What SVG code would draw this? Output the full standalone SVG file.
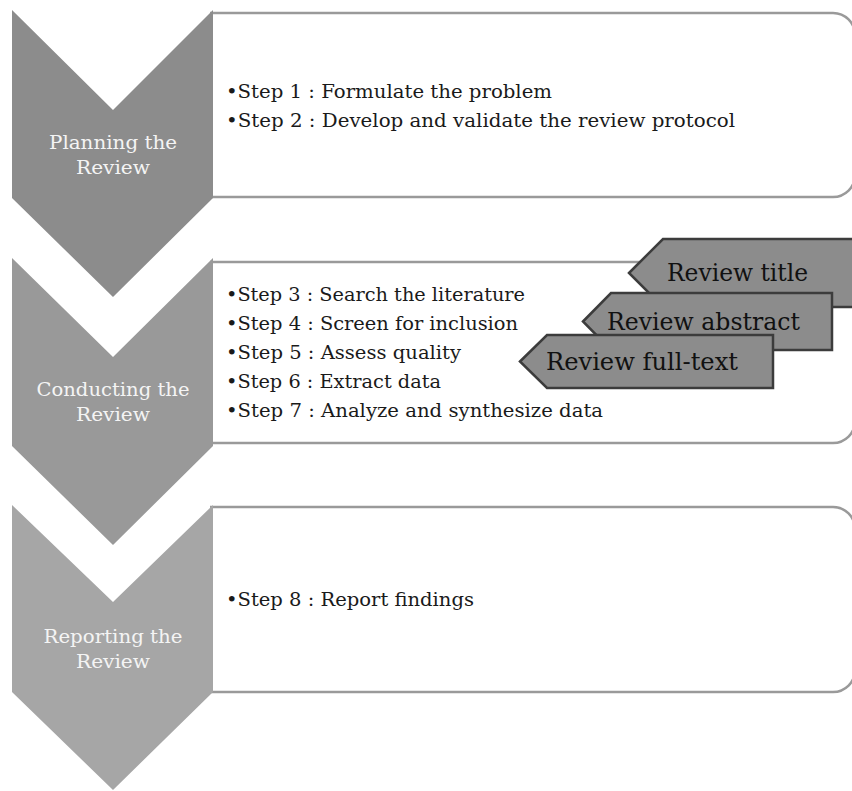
<svg xmlns="http://www.w3.org/2000/svg" width="852" height="791" viewBox="0 0 852 791">
<style>
.box{fill:#ffffff;stroke:#9a9a9a;stroke-width:2.5}
.lbl{font-family:"DejaVu Serif","Liberation Serif",serif;font-size:18px;fill:#f4f4f4;text-anchor:middle}
.step{font-family:"DejaVu Serif","Liberation Serif",serif;font-size:18px;fill:#1a1a1a}
.tag{fill:#8c8c8c;stroke:#3c3c3c;stroke-width:2.5}
.tagt{font-family:"DejaVu Serif","Liberation Serif",serif;font-size:24px;fill:#111;text-anchor:middle}
</style>
<rect width="852" height="791" fill="#ffffff"/>
<g id="stage1">
<path class="box" d="M210,13 H833 A22,22 0 0 1 855,35 V175 A22,22 0 0 1 833,197 H210"/>
<path d="M12,10 L113,110 L213,10 L213,198 L113,297 L12,198 Z" fill="#8c8c8c"/>
<text class="lbl" x="113" y="149" textLength="128" lengthAdjust="spacingAndGlyphs">Planning the</text>
<text class="lbl" x="113" y="174" textLength="74" lengthAdjust="spacingAndGlyphs">Review</text>
<text class="step" x="226" y="98" textLength="326" lengthAdjust="spacingAndGlyphs">•Step 1 : Formulate the problem</text>
<text class="step" x="226" y="127" textLength="509" lengthAdjust="spacingAndGlyphs">•Step 2 : Develop and validate the review protocol</text>
</g>
<g id="stage2">
<path class="box" d="M210,262 H833 A22,22 0 0 1 855,284 V421 A22,22 0 0 1 833,443 H210"/>
<path d="M12,258 L113,357 L213,258 L213,446 L113,545 L12,446 Z" fill="#999999"/>
<text class="lbl" x="113" y="396" textLength="153" lengthAdjust="spacingAndGlyphs">Conducting the</text>
<text class="lbl" x="113" y="421" textLength="74" lengthAdjust="spacingAndGlyphs">Review</text>
<text class="step" x="226" y="301" textLength="299" lengthAdjust="spacingAndGlyphs">•Step 3 : Search the literature</text>
<text class="step" x="226" y="330" textLength="292" lengthAdjust="spacingAndGlyphs">•Step 4 : Screen for inclusion</text>
<text class="step" x="226" y="359" textLength="235" lengthAdjust="spacingAndGlyphs">•Step 5 : Assess quality</text>
<text class="step" x="226" y="388" textLength="215" lengthAdjust="spacingAndGlyphs">•Step 6 : Extract data</text>
<text class="step" x="226" y="417" textLength="377" lengthAdjust="spacingAndGlyphs">•Step 7 : Analyze and synthesize data</text>
</g>
<g id="stage3">
<path class="box" d="M210,507 H833 A22,22 0 0 1 855,529 V670 A22,22 0 0 1 833,692 H210"/>
<path d="M12,505 L113,602 L213,505 L213,692 L113,790 L12,692 Z" fill="#a6a6a6"/>
<text class="lbl" x="113" y="643" textLength="139" lengthAdjust="spacingAndGlyphs">Reporting the</text>
<text class="lbl" x="113" y="668" textLength="74" lengthAdjust="spacingAndGlyphs">Review</text>
<text class="step" x="226" y="606" textLength="248" lengthAdjust="spacingAndGlyphs">•Step 8 : Report findings</text>
</g>
<g id="tag-title">
<path class="tag" d="M629,273 L663,239 L862,239 L862,307 L663,307 Z"/>
<text class="tagt" x="737.5" y="281" textLength="141" lengthAdjust="spacingAndGlyphs">Review title</text>
</g>
<g id="tag-abstract">
<path class="tag" d="M583,321.5 L611,293 L832,293 L832,350 L611,350 Z"/>
<text class="tagt" x="703.5" y="330" textLength="193" lengthAdjust="spacingAndGlyphs">Review abstract</text>
</g>
<g id="tag-fulltext">
<path class="tag" d="M520,361.5 L547,335 L773,335 L773,388 L547,388 Z"/>
<text class="tagt" x="642" y="370" textLength="192" lengthAdjust="spacingAndGlyphs">Review full-text</text>
</g>
<g id="connectors"></g>
</svg>
